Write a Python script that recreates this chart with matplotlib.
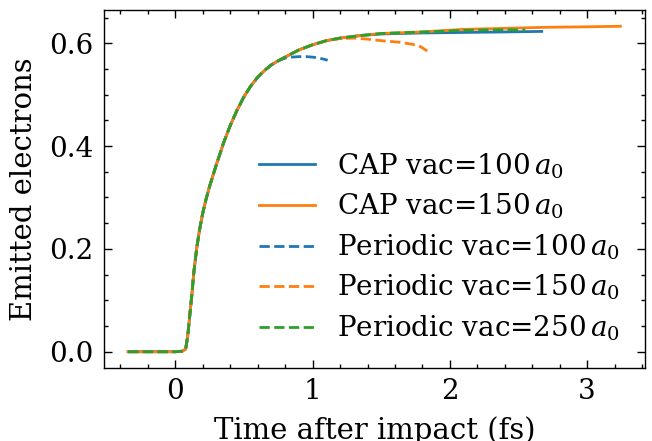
import numpy as np
import matplotlib.pyplot as plt
from matplotlib.ticker import MultipleLocator, AutoMinorLocator

plt.rcParams['font.family'] = 'serif'
plt.rcParams['font.serif'] = ['DejaVu Serif']
plt.rcParams['mathtext.fontset'] = 'dejavuserif'
plt.rcParams['xtick.direction'] = 'in'
plt.rcParams['ytick.direction'] = 'in'
plt.rcParams['xtick.top'] = True
plt.rcParams['ytick.right'] = True
plt.rcParams['xtick.major.size'] = 3
plt.rcParams['ytick.major.size'] = 3
plt.rcParams['xtick.minor.size'] = 1.5
plt.rcParams['ytick.minor.size'] = 1.5
plt.rcParams['xtick.major.width'] = 0.5
plt.rcParams['ytick.major.width'] = 0.5
plt.rcParams['xtick.minor.width'] = 0.5
plt.rcParams['ytick.minor.width'] = 0.5
plt.rcParams['axes.linewidth'] = 0.5

# common rising part (all runs coincide here)
t_rise = [-0.344, -0.2, 0.0, 0.05, 0.075, 0.09, 0.105, 0.12, 0.135, 0.155, 0.175,
          0.20, 0.225, 0.25, 0.30, 0.35, 0.40, 0.45, 0.50, 0.55, 0.60, 0.65, 0.70, 0.75]
y_rise = [0.0, 0.0, 0.0, 0.001, 0.005, 0.03, 0.07, 0.11, 0.155, 0.20, 0.235,
          0.27, 0.298, 0.322, 0.365, 0.405, 0.440, 0.470, 0.496, 0.517, 0.534, 0.547, 0.558, 0.566]

# tails
t_cap100 = [0.80, 0.85, 0.90, 1.00, 1.10, 1.20, 1.35, 1.50, 1.80, 2.10, 2.40, 2.669]
y_cap100 = [0.573, 0.580, 0.587, 0.597, 0.605, 0.610, 0.615, 0.618, 0.620, 0.621, 0.622, 0.623]

t_cap150 = [0.80, 0.85, 0.90, 1.00, 1.10, 1.20, 1.35, 1.50, 1.80, 2.10, 2.40, 2.70, 3.00, 3.242]
y_cap150 = [0.573, 0.580, 0.587, 0.597, 0.605, 0.610, 0.615, 0.619, 0.622, 0.627, 0.629, 0.631, 0.632, 0.633]

t_per100 = [0.80, 0.85, 0.90, 0.95, 1.00, 1.05, 1.11]
y_per100 = [0.571, 0.573, 0.574, 0.574, 0.573, 0.571, 0.567]

t_per150 = [0.80, 0.85, 0.90, 1.00, 1.10, 1.20, 1.30, 1.40, 1.50, 1.63, 1.726, 1.774, 1.80, 1.835]
y_per150 = [0.573, 0.580, 0.587, 0.597, 0.605, 0.609, 0.610, 0.608, 0.605, 0.602, 0.598, 0.595, 0.591, 0.585]

t_per250 = [0.80, 0.85, 0.90, 1.00, 1.10, 1.20, 1.35, 1.50, 1.80, 2.10, 2.30, 2.549]
y_per250 = [0.573, 0.580, 0.587, 0.597, 0.605, 0.610, 0.615, 0.619, 0.622, 0.625, 0.626, 0.626]

series = [
    (t_cap100, y_cap100, 'C0', '-', r'CAP vac=100$\,a_0$'),
    (t_cap150, y_cap150, 'C1', '-', r'CAP vac=150$\,a_0$'),
    (t_per100, y_per100, 'C0', '--', r'Periodic vac=100$\,a_0$'),
    (t_per150, y_per150, 'C1', '--', r'Periodic vac=150$\,a_0$'),
    (t_per250, y_per250, 'C2', '--', r'Periodic vac=250$\,a_0$'),
]

fig = plt.figure(figsize=(3.26, 2.205))
ax = fig.add_axes([103.5 / 652, 1 - 368 / 441, (645 - 103.5) / 652, (368 - 10) / 441])
for t, y, c, ls, lab in series:
    ax.plot(t_rise + t, y_rise + y, color=c, ls=ls, lw=1, label=lab)

ax.xaxis.set_major_locator(MultipleLocator(1))
ax.yaxis.set_major_locator(MultipleLocator(0.2))
ax.xaxis.set_minor_locator(AutoMinorLocator(5))
ax.yaxis.set_minor_locator(AutoMinorLocator(4))
ax.tick_params(labelsize=10)
ax.set_xlabel('Time after impact (fs)', fontsize=10.5)
ax.set_ylabel('Emitted electrons', fontsize=10.5)
ax.legend(loc='lower right', frameon=False, fontsize=10, labelspacing=0.4)
fig.savefig('out.png', dpi=200)
